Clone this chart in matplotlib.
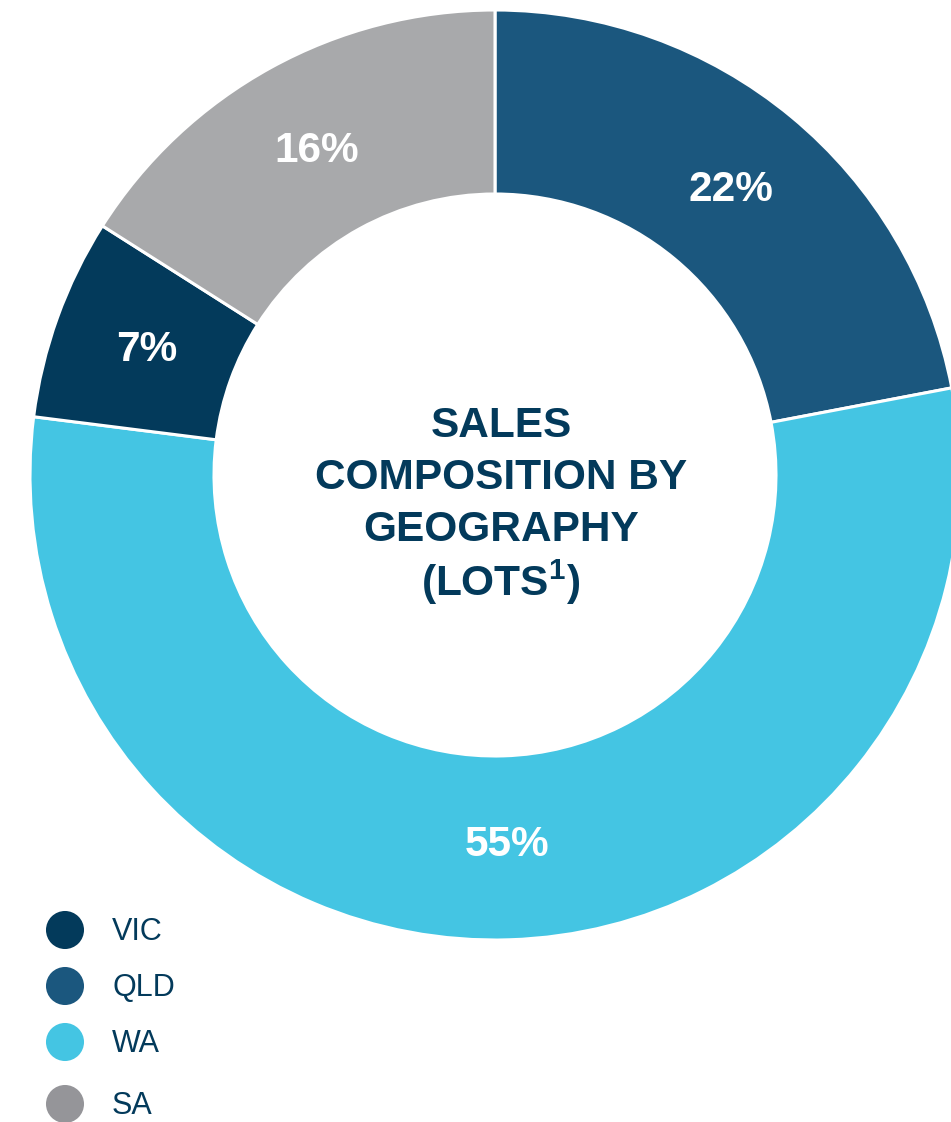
import matplotlib
matplotlib.use("Agg")
import matplotlib.pyplot as plt

plt.rcParams["mathtext.fontset"] = "custom"
plt.rcParams["mathtext.bf"] = "Liberation Sans:bold"
plt.rcParams["mathtext.rm"] = "Liberation Sans:bold"

# Data (clockwise from top)
regions = ["QLD", "WA", "VIC", "SA"]
shares = [22, 55, 7, 16]
slice_colors = ["#1B577E", "#44C5E3", "#033A5B", "#A8A9AB"]

legend_labels = ["VIC", "QLD", "WA", "SA"]
legend_colors = ["#033A5B", "#1B577E", "#44C5E3", "#959599"]

title_lines = ["SALES", "COMPOSITION BY", "GEOGRAPHY", r"(LOTS$^{\mathbf{1}}$)"]

W, H = 951, 1122
fig = plt.figure(figsize=(W / 100, H / 100), dpi=100)
ax = fig.add_axes([0, 0, 1, 1])

cx, cy = 495, H - 475
R = 465
ring = 184

wedges, texts, autotexts = ax.pie(
    shares, colors=slice_colors, startangle=90, counterclock=False,
    center=(cx, cy), radius=R,
    wedgeprops=dict(width=ring, edgecolor="white", linewidth=2.2),
    autopct=lambda p: f"{p:.0f}%", pctdistance=(R - ring / 2 - 3) / R,
    textprops=dict(color="white", fontsize=30.5, fontweight="bold",
                   family=["Liberation Sans", "DejaVu Sans"]),
)

# centre title
line_gap = 52
y0 = cy - 29 + 1.5 * line_gap
for i, line in enumerate(title_lines):
    ax.text(cx + 6, y0 - i * line_gap, line, ha="center", va="center",
            fontsize=30.5, fontweight="bold", color="#033A5B",
            family=["Liberation Sans", "DejaVu Sans"])

# legend
leg_x = 65
leg_y = [H - 930, H - 986, H - 1042, H - 1104]
ax.scatter([leg_x] * len(legend_labels), leg_y, s=750, c=legend_colors,
           edgecolors="none", zorder=3, clip_on=False)
for y, lab in zip(leg_y, legend_labels):
    ax.text(leg_x + 47, y - 2, lab, ha="left", va="center", fontsize=22,
            color="#033A5B", family=["Liberation Sans", "DejaVu Sans"])

ax.set_xlim(0, W)
ax.set_ylim(0, H)
ax.set_aspect("auto")
ax.axis("off")

fig.savefig("out.png", dpi=100, facecolor="white")
